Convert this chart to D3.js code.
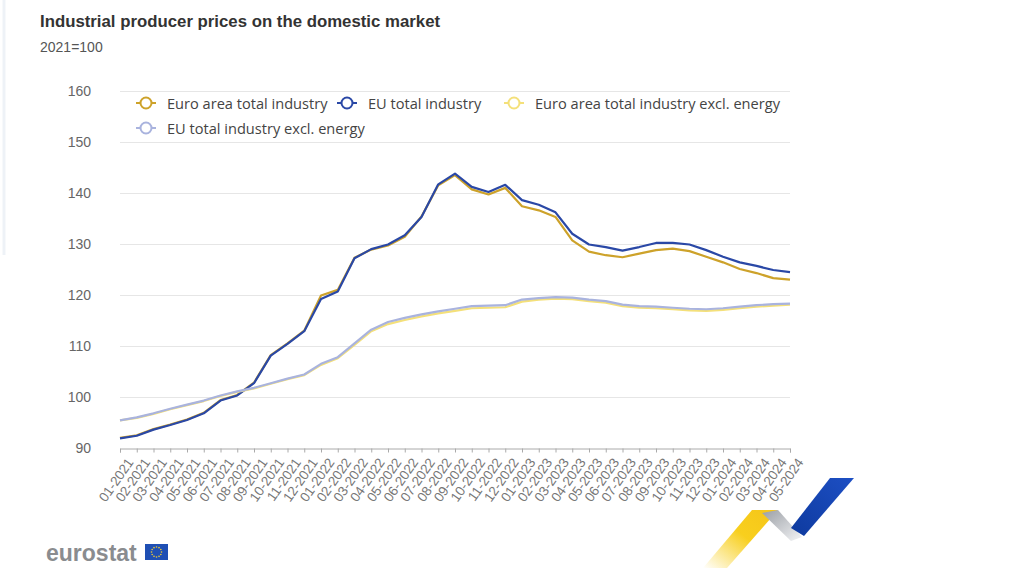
<!DOCTYPE html>
<html><head><meta charset="utf-8">
<script src="https://cdn.jsdelivr.net/npm/d3@7"></script>
<style>
html,body{margin:0;padding:0;background:#fff;}
svg{display:block;font-family:"Open Sans","DejaVu Sans",sans-serif;}
</style></head>
<body><svg id="c" width="1024" height="576"></svg>
<script>
const months = ["01-2021","02-2021","03-2021","04-2021","05-2021","06-2021","07-2021","08-2021","09-2021","10-2021","11-2021","12-2021",
"01-2022","02-2022","03-2022","04-2022","05-2022","06-2022","07-2022","08-2022","09-2022","10-2022","11-2022","12-2022",
"01-2023","02-2023","03-2023","04-2023","05-2023","06-2023","07-2023","08-2023","09-2023","10-2023","11-2023","12-2023",
"01-2024","02-2024","03-2024","04-2024","05-2024"];
const euroTotal = [92.1,92.6,93.8,94.7,95.7,97.0,99.5,100.5,102.9,108.3,110.6,113.1,
120.0,121.1,127.4,129.0,129.8,131.5,135.5,141.6,143.6,140.8,139.8,141.1,
137.5,136.7,135.4,130.8,128.6,127.9,127.5,128.2,128.9,129.2,128.7,127.6,
126.5,125.2,124.4,123.4,123.1];
const euTotal = [92.0,92.5,93.7,94.6,95.6,96.9,99.4,100.4,102.8,108.2,110.5,113.0,
119.3,120.8,127.3,129.1,130.0,131.8,135.4,141.8,143.9,141.3,140.3,141.7,
138.7,137.8,136.3,132.1,130.0,129.5,128.8,129.5,130.3,130.3,130.0,128.9,
127.6,126.5,125.8,125.0,124.6];
const euroExcl = [95.5,96.0,96.8,97.7,98.5,99.3,100.3,101.1,101.8,102.7,103.6,104.4,
106.4,107.7,110.3,113.0,114.4,115.2,115.9,116.5,117.0,117.5,117.6,117.7,
118.8,119.2,119.4,119.3,118.9,118.6,117.9,117.6,117.5,117.3,117.1,117.0,
117.2,117.5,117.8,118.0,118.2];
const euExcl = [95.5,96.1,96.9,97.8,98.6,99.4,100.4,101.2,101.9,102.8,103.7,104.5,
106.6,107.9,110.6,113.3,114.8,115.6,116.3,116.9,117.4,117.9,118.0,118.1,
119.2,119.5,119.7,119.6,119.2,118.9,118.2,117.9,117.8,117.6,117.4,117.3,
117.5,117.8,118.1,118.3,118.4];
const seriesNames = ["Euro area total industry","EU total industry","Euro area total industry excl. energy","EU total industry excl. energy"];
const seriesColors = ["#cda22a","#2a48a6","#f4e07a","#a9b3de"];
const yTicks = [90,100,110,120,130,140,150,160];

const series = [euroTotal, euTotal, euroExcl, euExcl];
const svg = d3.select("#c");

// faint card edge at left
svg.append("line").attr("x1",4).attr("x2",4).attr("y1",0).attr("y2",255).attr("stroke","#eef2f7").attr("stroke-width",3);

svg.append("text").attr("x",40).attr("y",27).attr("font-family","Liberation Sans, Arial, sans-serif")
  .attr("font-weight","bold").attr("font-size",16.8).attr("fill","#333").text("Industrial producer prices on the domestic market");
svg.append("text").attr("x",40).attr("y",52).attr("font-family","Liberation Sans, Arial, sans-serif")
  .attr("font-size",14).attr("fill","#555").text("2021=100");

const x = d3.scalePoint().domain(months).range([120,790]);
const y = d3.scaleLinear().domain([90,160]).range([448.5,91.5]);

// grid
const grid = svg.append("g");
grid.selectAll("line").data(yTicks.filter(d=>d>90)).join("line")
  .attr("x1",120).attr("x2",790).attr("y1",d=>y(d)).attr("y2",d=>y(d))
  .attr("stroke","#e6e6e6").attr("stroke-width",1);

// y axis labels
const yAxis = svg.append("g").attr("transform","translate(112,0)")
  .call(d3.axisLeft(y).tickValues(yTicks).tickSize(0).tickPadding(0));
yAxis.select(".domain").remove();
yAxis.selectAll("text").attr("x",-21).attr("font-size",14).attr("fill","#666")
  .attr("font-family","Liberation Sans, Arial, sans-serif");

// x axis
const xAxis = svg.append("g").attr("transform","translate(0,448.5)")
  .call(d3.axisBottom(x).tickSize(4).tickPadding(3));
xAxis.select(".domain").attr("stroke","#aaa");
xAxis.selectAll(".tick line").attr("stroke","#aaa");
xAxis.selectAll("text").attr("font-size",13.5).attr("fill","#777")
  .attr("font-family","Liberation Sans, Arial, sans-serif")
  .attr("text-anchor","end").attr("dy","0.35em")
  .attr("transform","translate(4,7) rotate(-55)");

// lines
const line = d3.line().x((d,i)=>x(months[i])).y(d=>y(d));
series.forEach((s,k)=>{
  svg.append("path").datum(s).attr("d",line).attr("fill","none")
    .attr("stroke",seriesColors[k]).attr("stroke-width",2.2).attr("stroke-linejoin","round");
});

// legend
const legPos = [[146,103],[347,103],[514,103],[146,128]];
seriesNames.forEach((n,k)=>{
  const g = svg.append("g").attr("transform",`translate(${legPos[k][0]},${legPos[k][1]})`);
  g.append("line").attr("x1",-10).attr("x2",10).attr("stroke",seriesColors[k]).attr("stroke-width",2);
  g.append("circle").attr("r",5.5).attr("fill","#fff").attr("stroke",seriesColors[k]).attr("stroke-width",2);
  g.append("text").attr("x",21).attr("y",5.5).attr("font-size",14.6).attr("fill","#444").text(n);
});

// eurostat logo
svg.append("text").attr("x",46).attr("y",561).attr("font-family","Liberation Sans, Arial, sans-serif")
  .attr("font-weight","bold").attr("font-size",23).attr("fill","#8a8c8f").text("eurostat");
svg.append("rect").attr("x",145).attr("y",544).attr("width",23).attr("height",16).attr("fill","#1f4fb4");
const stars = d3.range(12);
svg.append("g").selectAll("circle").data(stars).join("circle")
  .attr("cx",d=>156.5+5*Math.cos(d*Math.PI/6)).attr("cy",d=>552+5*Math.sin(d*Math.PI/6))
  .attr("r",0.8).attr("fill","#f2cc30");

// decorative shapes
const defs = svg.append("defs");
const gy = defs.append("linearGradient").attr("id","gy").attr("x1","0").attr("y1","1").attr("x2","1").attr("y2","0");
gy.append("stop").attr("offset","0").attr("stop-color","#fff").attr("stop-opacity",1);
gy.append("stop").attr("offset","0.55").attr("stop-color","#f8cf1e");
gy.append("stop").attr("offset","1").attr("stop-color","#f5c518");
const gg = defs.append("linearGradient").attr("id","gg").attr("x1","0").attr("y1","0").attr("x2","1").attr("y2","1");
gg.append("stop").attr("offset","0").attr("stop-color","#9a9ea4");
gg.append("stop").attr("offset","1").attr("stop-color","#f3f4f6");
const gb = defs.append("linearGradient").attr("id","gb").attr("x1","0").attr("y1","1").attr("x2","1").attr("y2","0");
gb.append("stop").attr("offset","0").attr("stop-color","#0e3a9e");
gb.append("stop").attr("offset","1").attr("stop-color","#1d4fc4");
svg.append("polygon").attr("points","752,510 778,510 727,568 703,568").attr("fill","url(#gy)");
svg.append("polygon").attr("points","762,513 778,510 802,537 791,541").attr("fill","url(#gg)");
svg.append("polygon").attr("points","830,478 854,478 804,536 791,528").attr("fill","url(#gb)");
</script></body></html>
